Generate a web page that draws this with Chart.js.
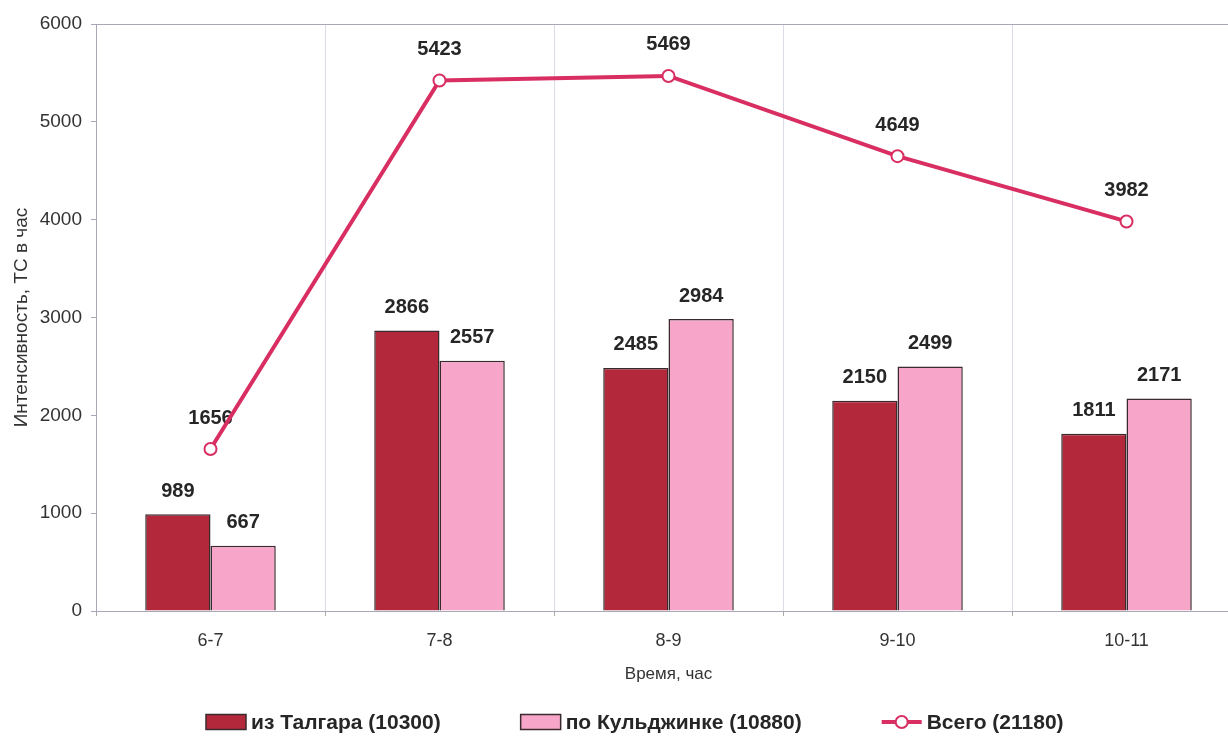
<!DOCTYPE html>
<html><head><meta charset="utf-8">
<script src="https://cdn.jsdelivr.net/npm/chart.js@4"></script>
<style>html,body{margin:0;padding:0;background:#fff;overflow:hidden}#wrap{width:1228px;height:737px;overflow:hidden}</style>
</head><body><div id="wrap"><canvas id="c" width="1249" height="737"></canvas></div>
<script>
const categories = ['6-7', '7-8', '8-9', '9-10', '10-11'];
const talgar = [989, 2866, 2485, 2150, 1811];
const kuldzha = [667, 2557, 2984, 2499, 2171];
const total = [1656, 5423, 5469, 4649, 3982];
const seriesNames = ['из Талгара (10300)', 'по Кульджинке (10880)', 'Всего (21180)'];
const yTicks = [0, 1000, 2000, 3000, 4000, 5000, 6000];

const RED = '#B3283A', PINK = '#F7A6C9', LINE = '#D92E62';
const FONT = '"Liberation Sans", Arial, sans-serif';

const labelsPlugin = {
  id: 'valueLabels',
  beforeDatasetsDraw(chart) {
    const ctx = chart.ctx;
    ctx.save();
    ctx.font = 'bold 20px ' + FONT;
    ctx.fillStyle = '#262626';
    ctx.textAlign = 'center';
    ctx.textBaseline = 'middle';
    chart.data.datasets.forEach((ds, i) => {
      const meta = chart.getDatasetMeta(i);
      const off = ds.type === 'line' ? 31 : 23;
      meta.data.forEach((el, j) => {
        ctx.fillText(String(ds.data[j]), el.x, el.y - off);
      });
    });
    ctx.restore();
  }
};

const legendPlugin = {
  id: 'customLegend',
  afterDraw(chart) {
    const ctx = chart.ctx;
    ctx.save();
    ctx.font = 'bold 21px ' + FONT;
    ctx.textBaseline = 'middle';
    ctx.textAlign = 'left';
    const boxW = 40, boxH = 15, gap = 5, itemGap = 80;
    const order = [1, 2, 0];
    const y = 722;
    let x = 206;
    order.forEach(i => {
      const ds = chart.data.datasets[i];
      if (ds.type === 'line') {
        ctx.strokeStyle = LINE; ctx.lineWidth = 4;
        ctx.beginPath(); ctx.moveTo(x, y); ctx.lineTo(x + boxW, y); ctx.stroke();
        ctx.fillStyle = '#fff'; ctx.lineWidth = 2;
        ctx.beginPath(); ctx.arc(x + boxW / 2, y, 6, 0, Math.PI * 2); ctx.fill(); ctx.stroke();
      } else {
        ctx.fillStyle = ds.backgroundColor;
        ctx.fillRect(x, y - boxH / 2, boxW, boxH);
        ctx.strokeStyle = '#3a2a2e'; ctx.lineWidth = 1.5;
        ctx.strokeRect(x, y - boxH / 2, boxW, boxH);
      }
      ctx.fillStyle = '#262626';
      ctx.fillText(ds.label, x + boxW + gap, y + 1);
      x += boxW + gap + ctx.measureText(ds.label).width + itemGap;
    });
    ctx.restore();
  }
};

new Chart(document.getElementById('c'), {
  data: {
    labels: categories,
    datasets: [
      { type: 'line', label: seriesNames[2], data: total, order: 0,
        borderColor: LINE, borderWidth: 4, tension: 0,
        pointRadius: 6, pointBackgroundColor: '#fff', pointBorderColor: LINE, pointBorderWidth: 2 },
      { type: 'bar', label: seriesNames[0], data: talgar, order: 1,
        backgroundColor: RED, borderColor: '#3a2a2e', borderWidth: 1.5,
        categoryPercentage: 0.57, barPercentage: 1.0 },
      { type: 'bar', label: seriesNames[1], data: kuldzha, order: 2,
        backgroundColor: PINK, borderColor: '#3a2a2e', borderWidth: 1.5,
        categoryPercentage: 0.57, barPercentage: 1.0 }
    ]
  },
  options: {
    responsive: false,
    animation: false,
    devicePixelRatio: 1,
    layout: { padding: { top: 24, right: 0, bottom: 41, left: 0 } },
    plugins: { legend: { display: false }, tooltip: { enabled: false } },
    scales: {
      x: {
        offset: true,
        afterFit(s) { s.height = 85; s.paddingRight = 0; s.paddingLeft = 0; },
        grid: { offset: true, color: '#dcdce6', lineWidth: 1, tickLength: 5, tickColor: '#aaa' },
        border: { color: '#a8a8b8', width: 1 },
        ticks: { font: { family: FONT, size: 18 }, color: '#333', padding: 14 },
        title: { display: true, text: 'Время, час', font: { family: FONT, size: 17 }, color: '#333',
                 padding: { top: 0, bottom: 11 } }
      },
      y: {
        min: 0, max: 6000,
        afterFit(s) { s.width = 96; },
        afterBuildTicks(s) { s.ticks = yTicks.map(v => ({ value: v })); },
        grid: {
          color: c => (c.tick && c.tick.value === 6000) ? '#a8a8b8' : 'rgba(0,0,0,0)',
          tickLength: 5, tickColor: '#a8a8b8'
        },
        border: { color: '#a8a8b8', width: 1 },
        ticks: { font: { family: FONT, size: 19 }, color: '#333', padding: 9,
                 callback: v => String(v) },
        title: { display: true, text: 'Интенсивность, ТС в час', font: { family: FONT, size: 19 }, color: '#333',
                 padding: { top: 10, bottom: 0 } }
      }
    }
  },
  plugins: [labelsPlugin, legendPlugin]
});
</script>
</body></html>
